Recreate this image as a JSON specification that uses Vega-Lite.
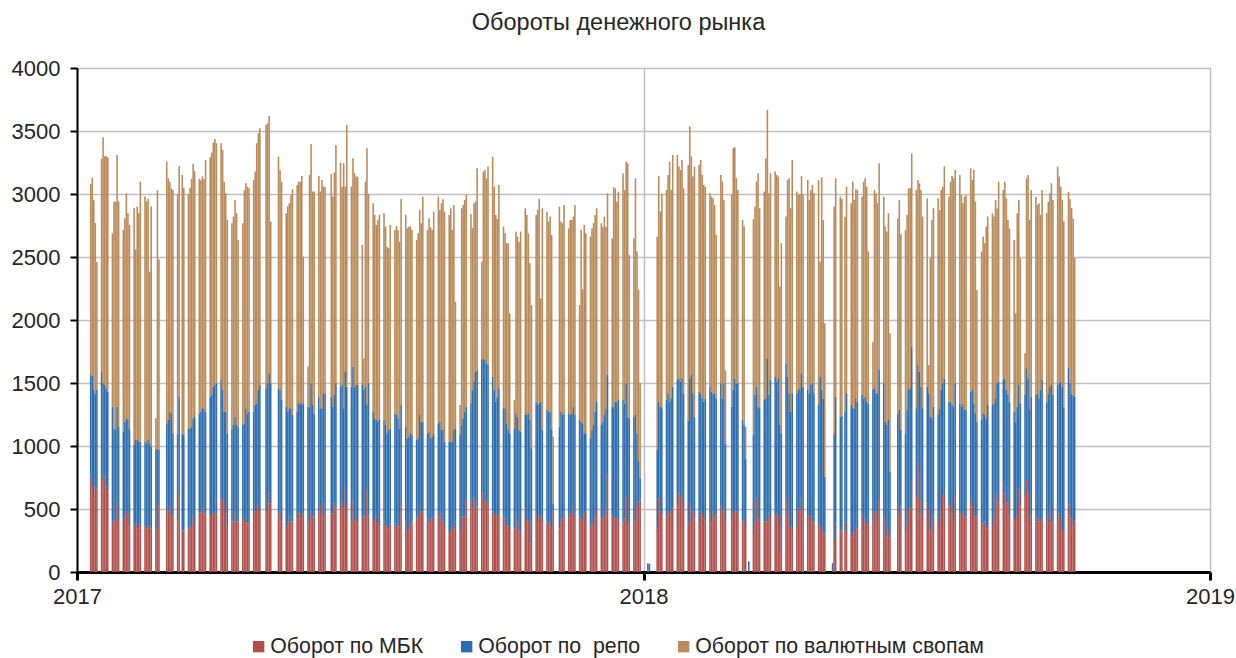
{
"$schema":"https://vega.github.io/schema/vega-lite/v6.json",
"width":1133,"height":504,
"autosize":{"type":"none"},
"padding":{"left":77,"top":68,"right":26,"bottom":86},
"background":"white",
"title":{"text":"Обороты денежного рынка","fontSize":23.5,"fontWeight":"normal","font":"Liberation Sans","color":"#262626","offset":23,"dx":-25,"anchor":"middle"},
"data":{"values":[
{"d":"2017-01-09","m":757,"r":807,"s":1516},{"d":"2017-01-10","m":677,"r":879,"s":1574},{"d":"2017-01-11","m":585,"r":860,"s":1505},{"d":"2017-01-12","m":677,"r":741,"s":1352},{"d":"2017-01-13","m":664,"r":781,"s":1015},
{"d":"2017-01-16","m":757,"r":833,"s":1690},{"d":"2017-01-17","m":730,"r":768,"s":1952},{"d":"2017-01-18","m":757,"r":727,"s":1816},{"d":"2017-01-19","m":677,"r":781,"s":1842},{"d":"2017-01-20","m":638,"r":793,"s":1859},
{"d":"2017-01-23","m":400,"r":912,"s":1376},{"d":"2017-01-24","m":413,"r":727,"s":1800},{"d":"2017-01-25","m":400,"r":727,"s":1813},{"d":"2017-01-26","m":545,"r":767,"s":1998},{"d":"2017-01-27","m":413,"r":741,"s":1786},
{"d":"2017-01-30","m":426,"r":688,"s":1601},{"d":"2017-01-31","m":439,"r":754,"s":1614},{"d":"2017-02-01","m":479,"r":741,"s":1786},{"d":"2017-02-02","m":466,"r":741,"s":1640},{"d":"2017-02-03","m":360,"r":767,"s":1628},
{"d":"2017-02-06","m":373,"r":635,"s":1882},{"d":"2017-02-07","m":386,"r":662,"s":1512},{"d":"2017-02-08","m":347,"r":701,"s":1852},{"d":"2017-02-09","m":386,"r":649,"s":1815},{"d":"2017-02-10","m":373,"r":662,"s":2065},
{"d":"2017-02-13","m":360,"r":675,"s":1945},{"d":"2017-02-14","m":347,"r":674,"s":1919},{"d":"2017-02-15","m":373,"r":675,"s":1912},{"d":"2017-02-16","m":360,"r":661,"s":1363},{"d":"2017-02-17","m":347,"r":648,"s":1905},
{"d":"2017-02-20","m":333,"r":635,"s":252},{"d":"2017-02-21","m":347,"r":633,"s":2050},{"d":"2017-02-22","m":532,"r":436,"s":1512},
{"d":"2017-02-27","m":492,"r":688,"s":2077},{"d":"2017-02-28","m":492,"r":715,"s":1918},{"d":"2017-03-01","m":532,"r":741,"s":1825},{"d":"2017-03-02","m":452,"r":808,"s":1785},{"d":"2017-03-03","m":452,"r":649,"s":1931},
{"d":"2017-03-06","m":400,"r":700,"s":1900},{"d":"2017-03-07","m":620,"r":770,"s":1830},{"d":"2017-03-09","m":330,"r":770,"s":2050},{"d":"2017-03-10","m":330,"r":760,"s":1960},
{"d":"2017-03-13","m":347,"r":793,"s":1860},{"d":"2017-03-14","m":360,"r":780,"s":1910},{"d":"2017-03-15","m":373,"r":781,"s":1966},{"d":"2017-03-16","m":439,"r":781,"s":2020},{"d":"2017-03-17","m":373,"r":860,"s":1947},
{"d":"2017-03-20","m":466,"r":794,"s":1860},{"d":"2017-03-21","m":471,"r":802,"s":1837},{"d":"2017-03-22","m":505,"r":795,"s":1840},{"d":"2017-03-23","m":466,"r":834,"s":1820},{"d":"2017-03-24","m":466,"r":807,"s":1997},
{"d":"2017-03-27","m":452,"r":940,"s":1900},{"d":"2017-03-28","m":452,"r":953,"s":1923},{"d":"2017-03-29","m":466,"r":1005,"s":1937},{"d":"2017-03-30","m":479,"r":1005,"s":1953},{"d":"2017-03-31","m":466,"r":1032,"s":1905},
{"d":"2017-04-03","m":585,"r":944,"s":1874},{"d":"2017-04-04","m":572,"r":873,"s":1905},{"d":"2017-04-05","m":532,"r":741,"s":1825},{"d":"2017-04-06","m":466,"r":807,"s":1733},{"d":"2017-04-07","m":360,"r":741,"s":1693},
{"d":"2017-04-10","m":400,"r":727,"s":1641},{"d":"2017-04-11","m":400,"r":767,"s":1654},{"d":"2017-04-12","m":466,"r":767,"s":1720},{"d":"2017-04-13","m":400,"r":767,"s":1680},{"d":"2017-04-14","m":400,"r":754,"s":1481},
{"d":"2017-04-17","m":426,"r":741,"s":1601},{"d":"2017-04-18","m":413,"r":767,"s":1852},{"d":"2017-04-19","m":386,"r":914,"s":1785},{"d":"2017-04-20","m":386,"r":874,"s":1798},{"d":"2017-04-21","m":386,"r":887,"s":1772},
{"d":"2017-04-24","m":466,"r":807,"s":1837},{"d":"2017-04-25","m":479,"r":847,"s":1852},{"d":"2017-04-26","m":532,"r":807,"s":2064},{"d":"2017-04-27","m":492,"r":953,"s":2037},{"d":"2017-04-28","m":492,"r":992,"s":2038},
{"d":"2017-05-02","m":492,"r":966,"s":2090},{"d":"2017-05-03","m":545,"r":953,"s":2063},{"d":"2017-05-04","m":624,"r":953,"s":2043},{"d":"2017-05-05","m":545,"r":953,"s":1283},
{"d":"2017-05-10","m":466,"r":992,"s":1839},{"d":"2017-05-11","m":479,"r":966,"s":1746},{"d":"2017-05-12","m":400,"r":965,"s":1733},
{"d":"2017-05-15","m":360,"r":952,"s":1535},{"d":"2017-05-16","m":386,"r":887,"s":1627},{"d":"2017-05-17","m":439,"r":861,"s":1626},{"d":"2017-05-18","m":400,"r":900,"s":1692},{"d":"2017-05-19","m":400,"r":846,"s":1792},
{"d":"2017-05-22","m":426,"r":847,"s":1799},{"d":"2017-05-23","m":466,"r":873,"s":1759},{"d":"2017-05-24","m":466,"r":873,"s":1759},{"d":"2017-05-25","m":426,"r":900,"s":1817},{"d":"2017-05-26","m":466,"r":873,"s":1164},
{"d":"2017-05-29","m":386,"r":926,"s":318},{"d":"2017-05-30","m":413,"r":899,"s":1839},{"d":"2017-05-31","m":479,"r":1019,"s":1899},{"d":"2017-06-01","m":439,"r":887,"s":1693},{"d":"2017-06-02","m":439,"r":821,"s":1759},
{"d":"2017-06-05","m":479,"r":913,"s":1751},{"d":"2017-06-06","m":532,"r":768,"s":1719},{"d":"2017-06-07","m":439,"r":861,"s":1811},{"d":"2017-06-08","m":545,"r":873,"s":1640},{"d":"2017-06-09","m":452,"r":966,"s":1640},
{"d":"2017-06-13","m":466,"r":926,"s":1767},{"d":"2017-06-14","m":466,"r":846,"s":1667},{"d":"2017-06-15","m":545,"r":860,"s":1765},{"d":"2017-06-16","m":505,"r":993,"s":1891},
{"d":"2017-06-19","m":505,"r":966,"s":1778},{"d":"2017-06-20","m":558,"r":926,"s":1574},{"d":"2017-06-21","m":505,"r":795,"s":1944},{"d":"2017-06-22","m":691,"r":899,"s":1468},{"d":"2017-06-23","m":532,"r":939,"s":2077},
{"d":"2017-06-26","m":413,"r":1058,"s":1587},{"d":"2017-06-27","m":558,"r":1072,"s":1654},{"d":"2017-06-28","m":413,"r":1053,"s":1699},{"d":"2017-06-29","m":413,"r":1071,"s":1654},{"d":"2017-06-30","m":386,"r":1098,"s":1654},
{"d":"2017-07-03","m":439,"r":1045,"s":1112},{"d":"2017-07-04","m":439,"r":1006,"s":251},{"d":"2017-07-05","m":439,"r":1032,"s":1627},{"d":"2017-07-06","m":651,"r":675,"s":2037},{"d":"2017-07-07","m":439,"r":1059,"s":1502},
{"d":"2017-07-10","m":400,"r":873,"s":1653},{"d":"2017-07-11","m":413,"r":807,"s":1614},{"d":"2017-07-12","m":439,"r":768,"s":1547},{"d":"2017-07-13","m":386,"r":807,"s":1601},{"d":"2017-07-14","m":360,"r":847,"s":1627},
{"d":"2017-07-17","m":400,"r":807,"s":1640},{"d":"2017-07-18","m":373,"r":794,"s":1574},{"d":"2017-07-19","m":360,"r":741,"s":1481},{"d":"2017-07-20","m":347,"r":780,"s":1442},{"d":"2017-07-21","m":386,"r":754,"s":1614},
{"d":"2017-07-24","m":360,"r":900,"s":1455},{"d":"2017-07-25","m":386,"r":860,"s":1500},{"d":"2017-07-26","m":360,"r":860,"s":1495},{"d":"2017-07-27","m":360,"r":780,"s":1482},{"d":"2017-07-28","m":519,"r":807,"s":1635},
{"d":"2017-07-31","m":400,"r":754,"s":1682},{"d":"2017-08-01","m":333,"r":728,"s":1667},{"d":"2017-08-02","m":333,"r":741,"s":1667},{"d":"2017-08-03","m":386,"r":715,"s":1640},{"d":"2017-08-04","m":400,"r":688,"s":1627},
{"d":"2017-08-07","m":426,"r":622,"s":1587},{"d":"2017-08-08","m":439,"r":622,"s":1627},{"d":"2017-08-09","m":532,"r":714,"s":1628},{"d":"2017-08-10","m":479,"r":714,"s":1575},{"d":"2017-08-11","m":479,"r":714,"s":1786},
{"d":"2017-08-14","m":426,"r":675,"s":1614},{"d":"2017-08-15","m":386,"r":728,"s":1693},{"d":"2017-08-16","m":426,"r":635,"s":1675},{"d":"2017-08-17","m":413,"r":661,"s":1641},{"d":"2017-08-18","m":439,"r":662,"s":1759},
{"d":"2017-08-21","m":439,"r":741,"s":1799},{"d":"2017-08-22","m":479,"r":714,"s":1681},{"d":"2017-08-23","m":466,"r":661,"s":1799},{"d":"2017-08-24","m":400,"r":727,"s":1831},{"d":"2017-08-25","m":373,"r":662,"s":1825},
{"d":"2017-08-28","m":307,"r":728,"s":1799},{"d":"2017-08-29","m":320,"r":715,"s":1852},{"d":"2017-08-30","m":360,"r":675,"s":1680},{"d":"2017-08-31","m":347,"r":780,"s":1786},{"d":"2017-09-01","m":400,"r":740,"s":1006},
{"d":"2017-09-04","m":333,"r":755,"s":238},{"d":"2017-09-05","m":439,"r":728,"s":1720},{"d":"2017-09-06","m":439,"r":781,"s":1693},{"d":"2017-09-07","m":439,"r":834,"s":1680},{"d":"2017-09-08","m":572,"r":740,"s":1680},
{"d":"2017-09-11","m":572,"r":767,"s":1503},{"d":"2017-09-12","m":505,"r":940,"s":1283},{"d":"2017-09-13","m":585,"r":926,"s":1415},{"d":"2017-09-14","m":558,"r":1032,"s":1350},{"d":"2017-09-15","m":519,"r":1084,"s":1601},
{"d":"2017-09-18","m":651,"r":1032,"s":780},{"d":"2017-09-19","m":624,"r":1072,"s":1482},{"d":"2017-09-20","m":572,"r":1111,"s":1508},{"d":"2017-09-21","m":558,"r":1098,"s":1469},{"d":"2017-09-22","m":532,"r":1111,"s":1575},
{"d":"2017-09-25","m":479,"r":1072,"s":1746},{"d":"2017-09-26","m":452,"r":993,"s":1613},{"d":"2017-09-27","m":466,"r":886,"s":1482},{"d":"2017-09-28","m":452,"r":940,"s":1410},{"d":"2017-09-29","m":452,"r":1006,"s":1614},
{"d":"2017-10-02","m":439,"r":861,"s":1441},{"d":"2017-10-03","m":426,"r":874,"s":1388},{"d":"2017-10-04","m":373,"r":807,"s":1429},{"d":"2017-10-05","m":360,"r":767,"s":1482},{"d":"2017-10-06","m":333,"r":768,"s":952},
{"d":"2017-10-09","m":347,"r":793,"s":225},{"d":"2017-10-10","m":466,"r":794,"s":1442},{"d":"2017-10-11","m":386,"r":847,"s":1429},{"d":"2017-10-12","m":320,"r":807,"s":1495},{"d":"2017-10-13","m":333,"r":781,"s":1588},
{"d":"2017-10-16","m":505,"r":741,"s":1641},{"d":"2017-10-17","m":413,"r":833,"s":1588},{"d":"2017-10-18","m":400,"r":860,"s":1428},{"d":"2017-10-19","m":228,"r":979,"s":1243},{"d":"2017-10-20","m":413,"r":569,"s":1137},
{"d":"2017-10-23","m":452,"r":900,"s":1482},{"d":"2017-10-24","m":386,"r":940,"s":1548},{"d":"2017-10-25","m":439,"r":900,"s":1622},{"d":"2017-10-26","m":452,"r":900,"s":820},{"d":"2017-10-27","m":413,"r":714,"s":1760},
{"d":"2017-10-30","m":400,"r":886,"s":1574},{"d":"2017-10-31","m":386,"r":887,"s":1508},{"d":"2017-11-01","m":373,"r":900,"s":1548},{"d":"2017-11-02","m":333,"r":794,"s":1548},{"d":"2017-11-03","m":490,"r":50,"s":534},
{"d":"2017-11-07","m":347,"r":807,"s":1746},{"d":"2017-11-08","m":400,"r":873,"s":1508},{"d":"2017-11-09","m":426,"r":820,"s":1522},{"d":"2017-11-10","m":466,"r":794,"s":1653},
{"d":"2017-11-13","m":426,"r":834,"s":1468},{"d":"2017-11-14","m":466,"r":780,"s":1548},{"d":"2017-11-15","m":452,"r":808,"s":1534},{"d":"2017-11-16","m":532,"r":780,"s":1509},{"d":"2017-11-17","m":466,"r":780,"s":1667},
{"d":"2017-11-20","m":439,"r":768,"s":912},{"d":"2017-11-21","m":426,"r":767,"s":1522},{"d":"2017-11-22","m":413,"r":767,"s":1064},{"d":"2017-11-23","m":466,"r":635,"s":1653},{"d":"2017-11-24","m":479,"r":622,"s":1587},
{"d":"2017-11-27","m":360,"r":701,"s":1601},{"d":"2017-11-28","m":386,"r":741,"s":1601},{"d":"2017-11-29","m":373,"r":794,"s":1601},{"d":"2017-11-30","m":426,"r":847,"s":1561},{"d":"2017-12-01","m":492,"r":860,"s":1535},
{"d":"2017-12-04","m":426,"r":741,"s":1601},{"d":"2017-12-05","m":426,"r":767,"s":1548},{"d":"2017-12-06","m":452,"r":794,"s":1575},{"d":"2017-12-07","m":479,"r":821,"s":1441},{"d":"2017-12-08","m":757,"r":807,"s":1442},
{"d":"2017-12-11","m":452,"r":860,"s":1336},{"d":"2017-12-12","m":439,"r":861,"s":1753},{"d":"2017-12-13","m":426,"r":926,"s":1693},{"d":"2017-12-14","m":426,"r":926,"s":1588},{"d":"2017-12-15","m":413,"r":952,"s":1654},
{"d":"2017-12-18","m":386,"r":979,"s":1800},{"d":"2017-12-19","m":426,"r":913,"s":1693},{"d":"2017-12-20","m":598,"r":900,"s":1759},{"d":"2017-12-21","m":360,"r":873,"s":2011},{"d":"2017-12-22","m":386,"r":834,"s":1296},
{"d":"2017-12-25","m":386,"r":847,"s":1415},{"d":"2017-12-26","m":400,"r":846,"s":1879},{"d":"2017-12-27","m":505,"r":595,"s":1443},{"d":"2017-12-28","m":560,"r":320,"s":1360},{"d":"2017-12-29","m":570,"r":180,"s":750},
{"d":"2018-01-03","m":0,"r":70,"s":0},{"d":"2018-01-04","m":0,"r":65,"s":0},
{"d":"2018-01-09","m":347,"r":621,"s":1692},{"d":"2018-01-10","m":585,"r":767,"s":1791},{"d":"2018-01-11","m":480,"r":832,"s":1548},{"d":"2018-01-12","m":450,"r":850,"s":1700},
{"d":"2018-01-15","m":439,"r":926,"s":1667},{"d":"2018-01-16","m":479,"r":939,"s":1733},{"d":"2018-01-17","m":466,"r":886,"s":1905},{"d":"2018-01-18","m":479,"r":899,"s":1654},{"d":"2018-01-19","m":505,"r":966,"s":1839},
{"d":"2018-01-22","m":532,"r":992,"s":1786},{"d":"2018-01-23","m":624,"r":913,"s":1681},{"d":"2018-01-24","m":611,"r":900,"s":1680},{"d":"2018-01-25","m":572,"r":965,"s":1733},{"d":"2018-01-26","m":505,"r":913,"s":1627},
{"d":"2018-01-29","m":386,"r":816,"s":2029},{"d":"2018-01-30","m":545,"r":992,"s":1998},{"d":"2018-01-31","m":532,"r":1032,"s":1733},{"d":"2018-02-01","m":479,"r":939,"s":1720},{"d":"2018-02-02","m":426,"r":807,"s":1985},
{"d":"2018-02-05","m":386,"r":1045,"s":1800},{"d":"2018-02-06","m":479,"r":939,"s":1852},{"d":"2018-02-07","m":452,"r":926,"s":1773},{"d":"2018-02-08","m":426,"r":926,"s":1720},{"d":"2018-02-09","m":413,"r":965,"s":1680},
{"d":"2018-02-12","m":400,"r":1071,"s":1535},{"d":"2018-02-13","m":386,"r":1045,"s":1548},{"d":"2018-02-14","m":492,"r":926,"s":1548},{"d":"2018-02-15","m":452,"r":966,"s":1495},{"d":"2018-02-16","m":452,"r":926,"s":1297},
{"d":"2018-02-19","m":519,"r":979,"s":1653},{"d":"2018-02-20","m":479,"r":899,"s":1722},{"d":"2018-02-21","m":505,"r":993,"s":1452},{"d":"2018-02-22","m":413,"r":607,"s":580},
{"d":"2018-02-26","m":400,"r":912,"s":1680},{"d":"2018-02-27","m":466,"r":979,"s":1918},{"d":"2018-02-28","m":492,"r":1045,"s":1834},{"d":"2018-03-01","m":479,"r":1019,"s":1627},{"d":"2018-03-02","m":466,"r":1032,"s":1534},
{"d":"2018-03-05","m":400,"r":807,"s":1587},{"d":"2018-03-06","m":413,"r":754,"s":1574},{"d":"2018-03-07","m":350,"r":550,"s":250},{"d":"2018-03-09","m":0,"r":85,"s":0},
{"d":"2018-03-12","m":294,"r":794,"s":1712},{"d":"2018-03-13","m":386,"r":1019,"s":1495},{"d":"2018-03-14","m":585,"r":886,"s":1629},{"d":"2018-03-15","m":426,"r":886,"s":1853},{"d":"2018-03-16","m":400,"r":900,"s":1587},
{"d":"2018-03-19","m":400,"r":965,"s":1654},{"d":"2018-03-20","m":400,"r":978,"s":1906},{"d":"2018-03-21","m":400,"r":1296,"s":1971},{"d":"2018-03-22","m":466,"r":939,"s":1601},{"d":"2018-03-23","m":413,"r":1111,"s":1641},
{"d":"2018-03-26","m":439,"r":1112,"s":1627},{"d":"2018-03-27","m":466,"r":1045,"s":1640},{"d":"2018-03-28","m":452,"r":1085,"s":1601},{"d":"2018-03-29","m":148,"r":1019,"s":1098},{"d":"2018-03-30","m":373,"r":728,"s":1508},
{"d":"2018-04-02","m":585,"r":1071,"s":1165},{"d":"2018-04-03","m":492,"r":1059,"s":1560},{"d":"2018-04-04","m":452,"r":966,"s":1707},{"d":"2018-04-05","m":360,"r":913,"s":1614},{"d":"2018-04-06","m":333,"r":1085,"s":1852},
{"d":"2018-04-09","m":360,"r":1058,"s":1601},{"d":"2018-04-10","m":505,"r":940,"s":1547},{"d":"2018-04-11","m":492,"r":966,"s":1540},{"d":"2018-04-12","m":585,"r":992,"s":1566},{"d":"2018-04-13","m":492,"r":979,"s":1527},
{"d":"2018-04-16","m":452,"r":993,"s":1666},{"d":"2018-04-17","m":439,"r":979,"s":1535},{"d":"2018-04-18","m":452,"r":1032,"s":1548},{"d":"2018-04-19","m":400,"r":1098,"s":1574},{"d":"2018-04-20","m":386,"r":1032,"s":1588},
{"d":"2018-04-23","m":386,"r":940,"s":1785},{"d":"2018-04-24","m":360,"r":1191,"s":912},{"d":"2018-04-25","m":333,"r":1112,"s":1688},{"d":"2018-04-26","m":307,"r":1071,"s":1416},{"d":"2018-04-27","m":307,"r":450,"s":1217},
{"d":"2018-05-02","m":0,"r":70,"s":0},{"d":"2018-05-03","m":254,"r":834,"s":1812},{"d":"2018-05-04","m":386,"r":1006,"s":1733},
{"d":"2018-05-07","m":320,"r":913,"s":1746},{"d":"2018-05-08","m":330,"r":910,"s":1720},{"d":"2018-05-10","m":320,"r":950,"s":1550},{"d":"2018-05-11","m":400,"r":1020,"s":1638},
{"d":"2018-05-14","m":280,"r":1046,"s":1600},{"d":"2018-05-15","m":307,"r":993,"s":1798},{"d":"2018-05-16","m":333,"r":967,"s":1653},{"d":"2018-05-17","m":360,"r":1018,"s":1660},{"d":"2018-05-18","m":347,"r":1005,"s":1680},
{"d":"2018-05-21","m":439,"r":966,"s":1574},{"d":"2018-05-22","m":320,"r":1058,"s":1720},{"d":"2018-05-23","m":426,"r":966,"s":1733},{"d":"2018-05-24","m":386,"r":966,"s":1706},{"d":"2018-05-25","m":373,"r":966,"s":1204},
{"d":"2018-05-28","m":400,"r":1045,"s":383},{"d":"2018-05-29","m":479,"r":979,"s":1574},{"d":"2018-05-30","m":479,"r":939,"s":1588},{"d":"2018-05-31","m":413,"r":1005,"s":1508},{"d":"2018-06-01","m":572,"r":1031,"s":1641},
{"d":"2018-06-04","m":426,"r":1072,"s":1481},{"d":"2018-06-05","m":413,"r":780,"s":1548},{"d":"2018-06-06","m":280,"r":887,"s":1535},{"d":"2018-06-07","m":333,"r":874,"s":1640},{"d":"2018-06-08","m":267,"r":529,"s":1099},
{"d":"2018-06-13","m":479,"r":767,"s":1561},{"d":"2018-06-14","m":452,"r":834,"s":1667},{"d":"2018-06-15","m":519,"r":608,"s":1553},
{"d":"2018-06-18","m":307,"r":794,"s":1614},{"d":"2018-06-19","m":386,"r":900,"s":1548},{"d":"2018-06-20","m":492,"r":953,"s":1600},{"d":"2018-06-21","m":505,"r":953,"s":1587},{"d":"2018-06-22","m":717,"r":1072,"s":1534},
{"d":"2018-06-25","m":585,"r":715,"s":1732},{"d":"2018-06-26","m":863,"r":780,"s":1468},{"d":"2018-06-27","m":770,"r":820,"s":1495},{"d":"2018-06-28","m":572,"r":899,"s":1561},{"d":"2018-06-29","m":452,"r":848,"s":1521},
{"d":"2018-07-02","m":545,"r":926,"s":1495},{"d":"2018-07-03","m":492,"r":926,"s":225},{"d":"2018-07-04","m":333,"r":900,"s":1257},{"d":"2018-07-05","m":400,"r":820,"s":1574},{"d":"2018-07-06","m":439,"r":873,"s":1575},
{"d":"2018-07-09","m":373,"r":873,"s":1720},{"d":"2018-07-10","m":439,"r":861,"s":1574},{"d":"2018-07-11","m":492,"r":953,"s":1587},{"d":"2018-07-12","m":611,"r":887,"s":1560},{"d":"2018-07-13","m":611,"r":926,"s":1681},
{"d":"2018-07-16","m":519,"r":833,"s":1627},{"d":"2018-07-17","m":532,"r":820,"s":1746},{"d":"2018-07-18","m":466,"r":860,"s":1817},{"d":"2018-07-19","m":400,"r":912,"s":1813},{"d":"2018-07-20","m":598,"r":900,"s":1693},
{"d":"2018-07-23","m":466,"r":873,"s":1812},{"d":"2018-07-24","m":452,"r":860,"s":1680},{"d":"2018-07-25","m":479,"r":847,"s":1600},{"d":"2018-07-26","m":452,"r":834,"s":1693},{"d":"2018-07-27","m":439,"r":847,"s":1706},
{"d":"2018-07-30","m":572,"r":859,"s":1773},{"d":"2018-07-31","m":519,"r":926,"s":1666},{"d":"2018-08-01","m":452,"r":887,"s":1852},{"d":"2018-08-02","m":439,"r":821,"s":1680},{"d":"2018-08-03","m":439,"r":754,"s":1045},
{"d":"2018-08-06","m":386,"r":821,"s":1336},{"d":"2018-08-07","m":386,"r":874,"s":1402},{"d":"2018-08-08","m":400,"r":846,"s":1363},{"d":"2018-08-09","m":347,"r":873,"s":1521},{"d":"2018-08-10","m":373,"r":953,"s":1495},
{"d":"2018-08-13","m":373,"r":953,"s":1521},{"d":"2018-08-14","m":466,"r":873,"s":1482},{"d":"2018-08-15","m":611,"r":767,"s":1575},{"d":"2018-08-16","m":624,"r":874,"s":1389},{"d":"2018-08-17","m":545,"r":966,"s":1587},
{"d":"2018-08-20","m":704,"r":820,"s":1508},{"d":"2018-08-21","m":624,"r":913,"s":1561},{"d":"2018-08-22","m":545,"r":900,"s":1521},{"d":"2018-08-23","m":558,"r":847,"s":1389},{"d":"2018-08-24","m":452,"r":900,"s":1376},
{"d":"2018-08-27","m":426,"r":847,"s":1362},{"d":"2018-08-28","m":413,"r":780,"s":860},{"d":"2018-08-29","m":452,"r":860,"s":1535},{"d":"2018-08-30","m":664,"r":820,"s":1469},{"d":"2018-08-31","m":519,"r":820,"s":1151},
{"d":"2018-09-03","m":611,"r":794,"s":331},{"d":"2018-09-04","m":730,"r":887,"s":1508},{"d":"2018-09-05","m":624,"r":913,"s":1614},{"d":"2018-09-06","m":360,"r":926,"s":1508},{"d":"2018-09-07","m":439,"r":953,"s":1640},
{"d":"2018-09-10","m":439,"r":966,"s":1574},{"d":"2018-09-11","m":426,"r":992,"s":1495},{"d":"2018-09-12","m":400,"r":978,"s":1548},{"d":"2018-09-13","m":413,"r":1032,"s":1389},{"d":"2018-09-14","m":426,"r":1098,"s":1508},
{"d":"2018-09-17","m":400,"r":952,"s":1495},{"d":"2018-09-18","m":452,"r":966,"s":1522},{"d":"2018-09-19","m":519,"r":952,"s":1535},{"d":"2018-09-20","m":386,"r":1098,"s":1601},{"d":"2018-09-21","m":400,"r":1005,"s":1548},
{"d":"2018-09-24","m":413,"r":1071,"s":1734},{"d":"2018-09-25","m":466,"r":1032,"s":1640},{"d":"2018-09-26","m":439,"r":1072,"s":1547},{"d":"2018-09-27","m":333,"r":1138,"s":1482},{"d":"2018-09-28","m":320,"r":992,"s":1469},
{"d":"2018-10-01","m":538,"r":1082,"s":1397},{"d":"2018-10-02","m":453,"r":1047,"s":1461},{"d":"2018-10-03","m":425,"r":992,"s":1473},{"d":"2018-10-04","m":368,"r":1034,"s":1403},{"d":"2018-10-05","m":411,"r":983,"s":1099}
]},
"transform":[{"fold":["m","r","s"],"as":["k","v"]}],
"mark":{"type":"bar","binSpacing":0},
"encoding":{
"x":{"field":"d","type":"temporal","timeUnit":"utcyearmonthdate",
"scale":{"type":"utc","domain":[{"year":2017,"month":1,"date":1,"utc":true},{"year":2019,"month":1,"date":1,"utc":true}]},
"axis":{"title":null,"values":[{"year":2017,"month":1,"date":1,"utc":true},{"year":2018,"month":1,"date":1,"utc":true},{"year":2019,"month":1,"date":1,"utc":true}],
"labelExpr":"utcFormat(datum.value,'%Y')","grid":true,"gridColor":"#C0C0C0","gridWidth":1.5,"domainColor":"#000000","domainWidth":3,"tickColor":"#000000","tickWidth":3,"tickSize":8,"labelFontSize":22,"labelFont":"Liberation Sans","labelColor":"#262626","labelPadding":6,"labelFlush":false,"labelOverlap":false}},
"y":{"field":"v","type":"quantitative","stack":"zero","scale":{"domain":[0,4000],"nice":false},
"axis":{"title":null,"values":[0,500,1000,1500,2000,2500,3000,3500,4000],"format":"d","grid":true,"gridColor":"#C0C0C0","gridWidth":1.5,"domainColor":"#000000","domainWidth":2,"tickColor":"#000000","tickWidth":2,"tickSize":7,"labelFontSize":22,"labelFont":"Liberation Sans","labelColor":"#262626","labelPadding":10}},
"color":{"field":"k","type":"nominal","scale":{"domain":["m","r","s"],"range":["#B0504C","#2E6DAF","#B98A5A"]},
"legend":{"title":null,"orient":"none","legendX":171,"legendY":568,"direction":"horizontal","symbolType":"square","symbolSize":130,"symbolStrokeWidth":0,"labelFontSize":21.3,"labelFont":"Liberation Sans","labelColor":"#262626","labelOffset":1,"labelLimit":500,"columnPadding":32,
"labelExpr":"datum.value=='m'?'Оборот по МБК':(datum.value=='r'?'Оборот по \u00a0репо':'Оборот по валютным свопам')"}},
"order":{"field":"k","sort":"ascending"}
},
"config":{"view":{"stroke":null},"font":"Liberation Sans"}
}
